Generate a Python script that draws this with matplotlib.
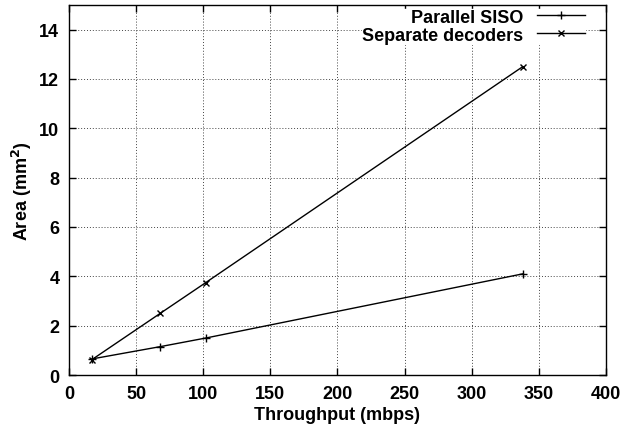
import matplotlib
matplotlib.use("Agg")
import matplotlib.pyplot as plt

throughput = [17, 68, 102, 338]
parallel_siso = [0.65, 1.15, 1.5, 4.1]
separate_decoders = [0.62, 2.5, 3.75, 12.5]
xticks = [0, 50, 100, 150, 200, 250, 300, 350, 400]
yticks = [0, 2, 4, 6, 8, 10, 12, 14]

plt.rcParams['font.family'] = ['Liberation Sans', 'DejaVu Sans']
plt.rcParams['font.weight'] = 'bold'

fig = plt.figure(figsize=(6.22, 4.31), dpi=100)
ax = fig.add_axes([0.1109, 0.1276, 0.8633, 0.8585])

ax.plot(throughput, parallel_siso, color='black', lw=1, marker='+', ms=6, mew=1, label='Parallel SISO')
ax.plot(throughput, separate_decoders, color='black', lw=1, marker='x', ms=5, mew=1, label='Separate decoders')

ax.set_xlim(0, 400)
ax.set_ylim(0, 15)
ax.set_xticks(xticks)
ax.set_yticks(yticks)
ax.tick_params(direction='in', top=True, right=True, labelsize=13, length=5, width=1, pad=7)
for lab in ax.get_xticklabels() + ax.get_yticklabels():
    lab.set_fontweight('bold')
ax.grid(True, linestyle=(0, (1, 2)), color='#444444', lw=0.7)
for s in ax.spines.values():
    s.set_linewidth(1)

ax.set_xlabel('Throughput (mbps)', fontsize=13, fontweight='bold', labelpad=3)
ax.set_ylabel('Area (mm$^2$)', fontsize=13, fontweight='bold', labelpad=4)

leg = ax.legend(loc='upper right', bbox_to_anchor=(0.961, 0.99), frameon=True, fontsize=13,
                markerfirst=False, handlelength=2.66, borderpad=0.0, labelspacing=0.05,
                handletextpad=0.75, borderaxespad=0.0, fancybox=False, edgecolor='white',
                framealpha=1)
for t in leg.get_texts():
    t.set_fontweight('bold')
    t.set_ha('right')

fig.savefig('out.png', dpi=100)
